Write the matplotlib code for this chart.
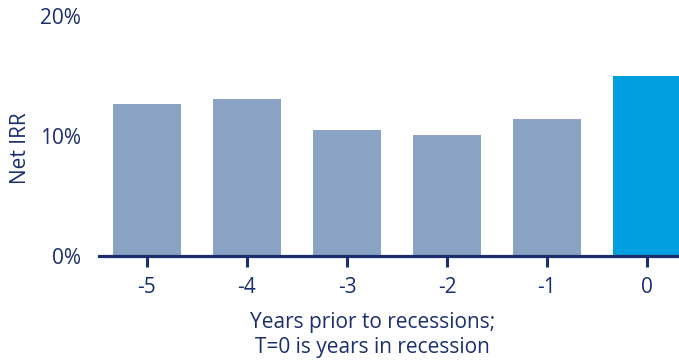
import matplotlib.pyplot as plt
from matplotlib.ticker import FuncFormatter

# Net IRR by year relative to recession start
years = [-5, -4, -3, -2, -1, 0]
year_labels = ['-5', '-4', '-3', '-2', '-1', '0']
net_irr = [12.7, 13.1, 10.5, 10.05, 11.4, 15.0]
bar_colors = ['#8aa2c4'] * 5 + ['#009fdf']

navy = '#1b2f6e'
plt.rcParams['font.family'] = ['Open Sans', 'DejaVu Sans']

fig = plt.figure(figsize=(6.79, 3.61), dpi=100)
ax = fig.add_axes([0.1458, 0.291, 0.8542, 0.665])

ax.bar(years, net_irr, width=0.68, color=bar_colors, zorder=2)

ax.set_xlim(-5.48, 0.32)
ax.set_ylim(0, 20)
ax.set_xticks(years)
ax.set_xticklabels(year_labels)
ax.set_yticks([0, 10, 20])
ax.yaxis.set_major_formatter(FuncFormatter(lambda v, p: f'{v:.0f}%'))

for s in ['top', 'right', 'left']:
    ax.spines[s].set_visible(False)
ax.spines['bottom'].set_color(navy)
ax.spines['bottom'].set_linewidth(2.3)
ax.spines['bottom'].set_zorder(3)

ax.tick_params(axis='x', colors=navy, length=8, width=2.2, pad=7, labelsize=15)
ax.tick_params(axis='y', length=0, pad=13, labelsize=15, labelcolor=navy)

ax.set_ylabel('Net IRR', color=navy, fontsize=15)
ax.yaxis.set_label_coords(-0.118, 0.45)
ax.set_xlabel('Years prior to recessions;\nT=0 is years in recession',
              color=navy, fontsize=15, linespacing=1.25)
ax.xaxis.set_label_coords(0.472, -0.235)
ax.xaxis.label.set_va('top')

fig.savefig('out.png', dpi=100)
